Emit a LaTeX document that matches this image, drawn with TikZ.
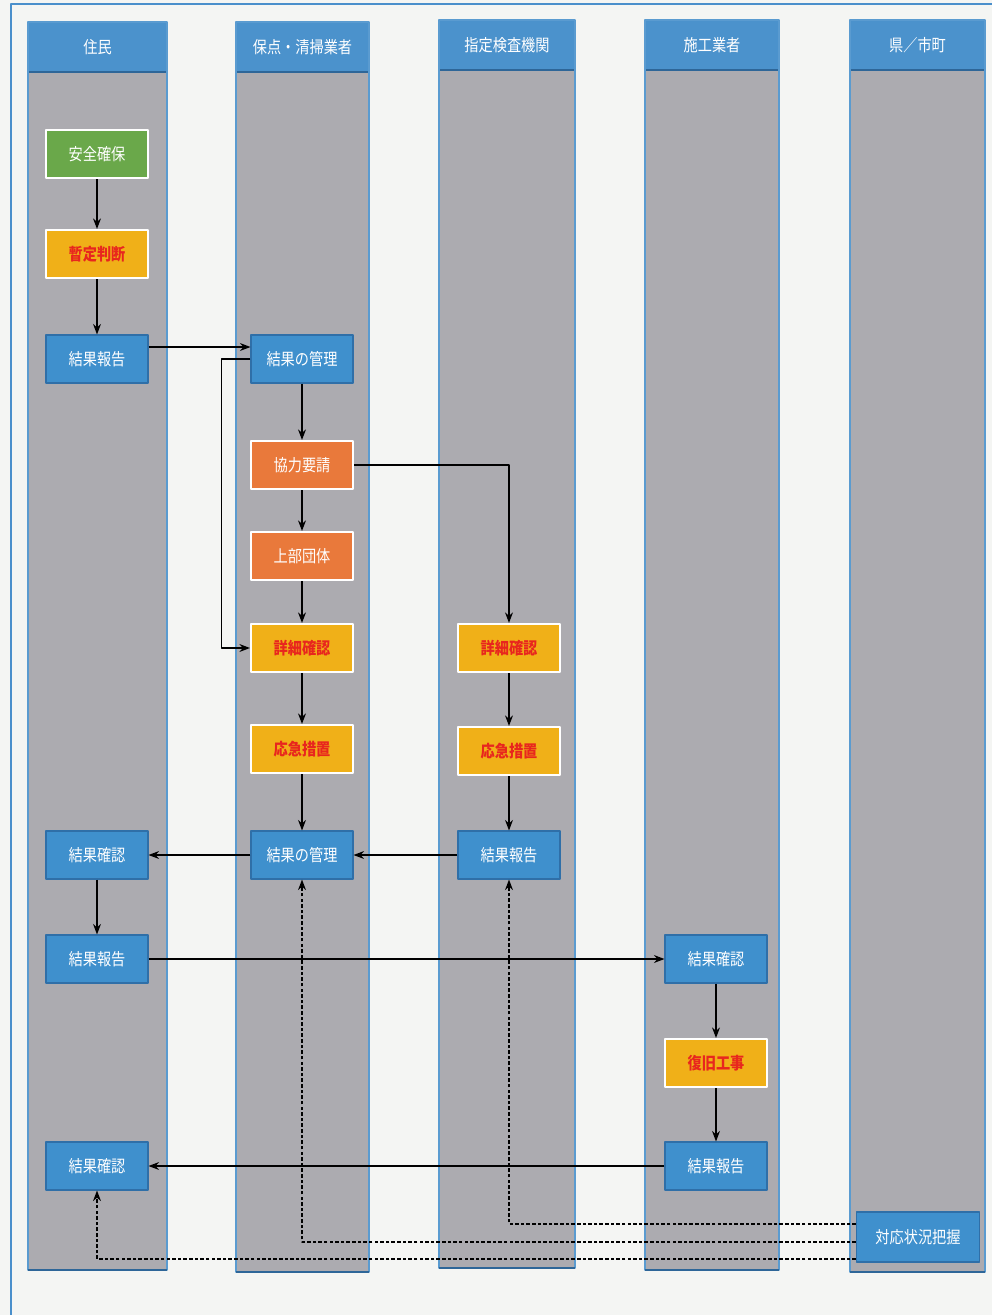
\documentclass[tikz,border=0pt]{standalone}
\usepackage{fontspec}
\setmainfont{Noto Sans CJK JP}
\newfontfamily\boxfont[FakeStretch=0.85]{Noto Sans CJK JP}
\usepackage{tikz}
\usetikzlibrary{arrows.meta}
\definecolor{pagebg}{HTML}{F4F5F3}
\definecolor{frameblue}{HTML}{4A8FCB}
\definecolor{lanegray}{HTML}{ACABB0}
\definecolor{laneedge}{HTML}{5A9BD0}
\definecolor{headblue}{HTML}{4B92CC}
\definecolor{headline}{HTML}{2E6698}
\definecolor{boxblue}{HTML}{3F90CD}
\definecolor{boxedge}{HTML}{2F6FA8}
\definecolor{safegreen}{HTML}{6AA84A}
\definecolor{warnyellow}{HTML}{F0B018}
\definecolor{warnred}{HTML}{E8261E}
\definecolor{reqorange}{HTML}{E9793B}
\tikzset{
  every picture/.style={
    line join=round,
    >={Stealth[length=6pt,width=4.5pt]},   % one arrow tip everywhere
  },
  flowbox/.style={minimum width=2.04cm, minimum height=0.96cm, inner sep=0pt,
    font=\boxfont\fontsize{9.5}{10}\selectfont},
  bluebox/.style={flowbox, draw=boxedge, line width=0.6pt, fill=boxblue, text=white},
  greenbox/.style={flowbox, draw=white, line width=1.2pt, fill=safegreen, text=white},
  yellowbox/.style={flowbox, draw=white, line width=1.2pt, fill=warnyellow, text=warnred,
    font=\boxfont\fontsize{9.5}{10}\selectfont\bfseries},
  orangebox/.style={flowbox, draw=white, line width=1.2pt, fill=reqorange, text=white},
  flow/.style={->, line width=0.7pt, black},
  backflow/.style={->, line width=0.8pt, black, dash pattern=on 2pt off 1.2pt},
}

\begin{document}
\begin{tikzpicture}[x=0.02cm, y=-0.02cm]
    \useasboundingbox (0,0) rectangle (992,1315);
    % Page
    \fill[pagebg] (0,0) rectangle (992,1315);
    \draw[frameblue, line width=1pt] (11,1315) -- (11,4) -- (992,4);

    % Lanes with headers
    \foreach \xa/\xb/\ya/\yb/\name [count=\i] in {28/167/22/1270/住民, 236/369/22/1272/保点・清掃業者,
        439/575/20/1268/指定検査機関, 645/779/20/1270/施工業者, 850/985/20/1272/県／市町} {
        \fill[lanegray] (\xa,\ya+50) rectangle (\xb,\yb);
        \fill[headblue] (\xa,\ya) rectangle (\xb,\ya+50);
        \draw[headline, line width=1pt] (\xa,\ya+50) -- (\xb,\ya+50);
        \draw[laneedge, line width=0.6pt] (\xa,\ya) rectangle (\xb,\yb);
        \draw[headline, line width=1.2pt] (\xa,\yb) -- (\xb,\yb);
        \node[text=white, font=\boxfont\fontsize{9.5}{10}\selectfont] (head\i) at ({(\xa+\xb)/2},\ya+25) {\name};
    }

    % Residents
    \node[greenbox] (safe) at (97,154) {安全確保};
    \node[yellowbox] (judge) at (97,254) {暫定判断};
    \node[bluebox] (rep1) at (97,359) {結果報告};
    \node[bluebox] (chk1) at (97,855) {結果確認};
    \node[bluebox] (rep2) at (97,959) {結果報告};
    \node[bluebox] (chk2) at (97,1166) {結果確認};

    % Maintenance / cleaning
    \node[bluebox] (man1) at (302,359) {結果の管理};
    \node[orangebox] (coop) at (302,465) {協力要請};
    \node[orangebox] (upper) at (302,556) {上部団体};
    \node[yellowbox] (det1) at (302,648) {詳細確認};
    \node[yellowbox] (emg1) at (302,749) {応急措置};
    \node[bluebox] (man2) at (302,855) {結果の管理};

    % Inspection body
    \node[yellowbox] (det2) at (509,648) {詳細確認};
    \node[yellowbox] (emg2) at (509,751) {応急措置};
    \node[bluebox] (rep3) at (509,855) {結果報告};

    % Contractor
    \node[bluebox] (chk3) at (716,959) {結果確認};
    \node[yellowbox] (work) at (716,1063) {復旧工事};
    \node[bluebox] (rep4) at (716,1166) {結果報告};

    % Prefecture / town
    \node[bluebox, minimum width=2.46cm, minimum height=1cm] (grasp) at (918,1237) {対応状況把握};

    % Main flow
    \draw[flow] (safe) -- (judge);
    \draw[flow] (judge) -- (rep1);
    \draw[flow] ([yshift=0.24cm]rep1.east) -- ([yshift=0.24cm]man1.west);
    \draw[flow] (man1.west) -- ++(-29,0) |- (det1.west);
    \draw[flow] (man1) -- (coop);
    \draw[flow] (coop) -- (upper);
    \draw[flow] (upper) -- (det1);
    \draw[flow] (det1) -- (emg1);
    \draw[flow] (emg1) -- (man2);
    \draw[flow] (coop.east) -| (det2.north);
    \draw[flow] (det2) -- (emg2);
    \draw[flow] (emg2) -- (rep3);
    \draw[flow] (rep3) -- (man2);
    \draw[flow] (man2) -- (chk1);
    \draw[flow] (chk1) -- (rep2);
    \draw[flow] (rep2) -- (chk3);
    \draw[flow] (chk3) -- (work);
    \draw[flow] (work) -- (rep4);
    \draw[flow] (rep4) -- (chk2);

    % Status follow-up (dotted)
    \draw[backflow] ([yshift=0.26cm]grasp.west) -| (rep3.south);
    \draw[backflow] ([yshift=-0.1cm]grasp.west) -| (man2.south);
    \draw[backflow] ([yshift=-0.44cm]grasp.west) -| (chk2.south);
\end{tikzpicture}
\end{document}
